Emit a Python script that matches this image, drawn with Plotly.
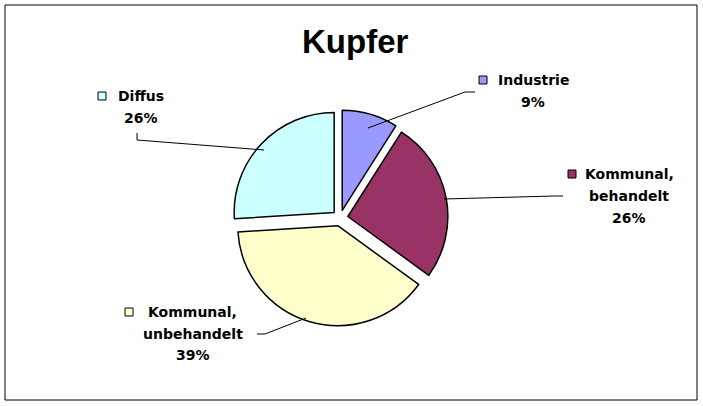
import plotly.graph_objects as go

categories = ["Industrie", "Kommunal, behandelt", "Kommunal, unbehandelt", "Diffus"]
values = [9, 26, 39, 26]
colors = ["#9999FF", "#993366", "#FFFFCC", "#CCFFFF"]
label_lines = [["Industrie"], ["Kommunal,", "behandelt"], ["Kommunal,", "unbehandelt"], ["Diffus"]]
title_text = "Kupfer"

W, H = 703, 406


def px(x):
    return x / W


def py(y):
    return 1 - y / H


fig = go.Figure()
fig.add_trace(go.Pie(
    labels=categories, values=values, sort=False, direction="clockwise", rotation=0,
    marker=dict(colors=colors, line=dict(color="black", width=1.5)),
    pull=[0.08] * len(values), textinfo="none", hoverinfo="label+percent",
    showlegend=False,
    domain=dict(x=[px(232), px(448)], y=[py(326), py(110)]),
))

font = dict(family="DejaVu Sans, Liberation Sans, sans-serif", size=14, color="black")

# key square centre, first text line centre x, first line y, line spacing
label_pos = [
    (483, 80, 533, 80, 22),
    (572, 174, 629, 174, 22),
    (129, 312, 193, 312, 21.5),
    (102, 96, 141, 96, 22),
]
annotations = []
shapes = []
total = sum(values)
for i, cat in enumerate(categories):
    kx, ky, tx, ty, dy = label_pos[i]
    pct = f"{round(values[i] / total * 100)}%"
    lines = label_lines[i] + [pct]
    for j, line in enumerate(lines):
        annotations.append(dict(
            x=px(tx), y=py(ty + j * dy), xref="paper", yref="paper",
            xanchor="center", yanchor="middle",
            text=f"<b>{line}</b>", showarrow=False, font=font,
        ))
    shapes.append(dict(type="rect", xref="paper", yref="paper",
                       x0=px(kx - 4), x1=px(kx + 4), y0=py(ky + 4), y1=py(ky - 4),
                       fillcolor=colors[i], line=dict(color="black", width=1)))

leaders = [
    [(368, 128), (465, 92), (475, 92)],
    [(444, 199), (554, 196), (563, 196)],
    [(306, 318), (265, 334), (257, 334)],
    [(264, 150), (137, 140), (137, 133)],
]
for pts in leaders:
    path = "M " + " L ".join(f"{px(x)},{py(y)}" for x, y in pts)
    shapes.append(dict(type="path", xref="paper", yref="paper", path=path,
                       line=dict(color="black", width=1)))

shapes.append(dict(type="rect", xref="paper", yref="paper",
                   x0=px(5), x1=px(697), y0=py(400), y1=py(5),
                   line=dict(color="black", width=1)))

annotations.append(dict(x=px(355), y=py(42), xref="paper", yref="paper",
                        xanchor="center", yanchor="middle",
                        text=f"<b>{title_text}</b>", showarrow=False,
                        font=dict(family="Liberation Sans, Arial, sans-serif", size=33, color="black")))

fig.update_layout(
    width=W, height=H, margin=dict(l=0, r=0, t=0, b=0),
    paper_bgcolor="white", plot_bgcolor="white",
    annotations=annotations, shapes=shapes,
)
fig.write_html("out.html", config={"displayModeBar": False},
               post_script="document.body.style.margin='0';")
